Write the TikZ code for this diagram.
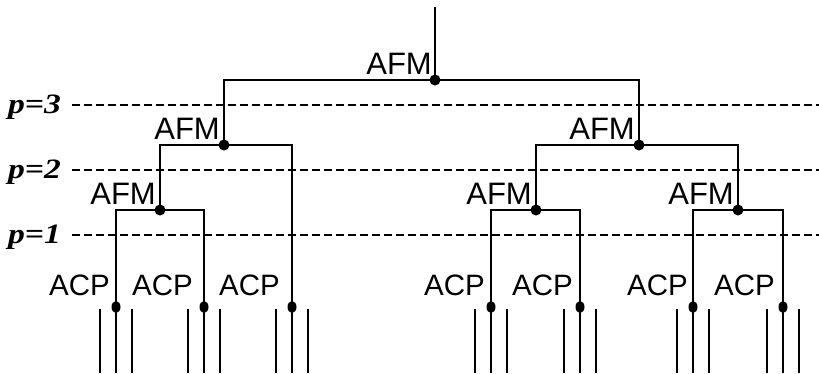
\documentclass[tikz,border=0pt]{standalone}
\usepackage{fontspec}
\usetikzlibrary{shapes.geometric}
\setmainfont{Liberation Serif}
\newfontfamily\lsans{Liberation Sans}
\begin{document}
\begin{tikzpicture}[x=1pt,y=-1pt,
  wire/.style={line width=2pt},
  guide/.style={line width=1.1pt,dash pattern=on 8pt off 4pt},
  dot/.style={circle,fill=black,inner sep=0pt,minimum size=11pt},
  leafdot/.style={ellipse,fill=black,inner sep=0pt,minimum width=9pt,minimum height=12pt},
  afm/.style={anchor=base east,inner sep=0pt,font=\lsans\fontsize{31}{32}\selectfont},
  acp/.style={anchor=base east,inner sep=0pt,font=\lsans\fontsize{29.5}{30}\selectfont},
  plab/.style={anchor=base west,inner sep=0pt,font=\bfseries\itshape\fontsize{28}{30}\selectfont}]
\useasboundingbox (0,0) rectangle (819,373);
% guides
\node[plab] (p3) at (8,113) {\scalebox{1.2}[1]{p=3}};
\node[plab] (p2) at (8,178) {\scalebox{1.2}[1]{p=2}};
\node[plab] (p1) at (8,243) {\scalebox{1.2}[1]{p=1}};
\coordinate (g3e) at (819,105);
\coordinate (g2e) at (819,170);
\coordinate (g1e) at (819,235);
\draw[guide] (72,105) -- (g3e);
\draw[guide] (72,170) -- (g2e);
\draw[guide] (72,235) -- (g1e);
% junctions
\coordinate (top) at (435,7);
\node[dot] (r) at (435,80) {};
\node[dot] (a) at (224,145) {};
\node[dot] (b) at (639,145) {};
\node[dot] (a1) at (160,210) {};
\node[dot] (b1) at (536,210) {};
\node[dot] (b2) at (738,210) {};
\node[leafdot] (l1) at (116,307) {};
\node[leafdot] (l2) at (204,307) {};
\node[leafdot] (l3) at (292,307) {};
\node[leafdot] (l4) at (491,307) {};
\node[leafdot] (l5) at (580,307) {};
\node[leafdot] (l6) at (693,307) {};
\node[leafdot] (l7) at (783,307) {};
% tree wires
\draw[wire] (top) -- (r.center);
\draw[wire] (a.center) |- (r.center) -| (b.center);
\draw[wire] (a1.center) |- (a.center) -| (l3.center);
\draw[wire] (l1.center) |- (a1.center) -| (l2.center);
\draw[wire] (b1.center) |- (b.center) -| (b2.center);
\draw[wire] (l4.center) |- (b1.center) -| (l5.center);
\draw[wire] (l6.center) |- (b2.center) -| (l7.center);
% leaf lines
\foreach \n/\x in {l1/116,l2/204,l3/292,l4/491,l5/580,l6/693,l7/783}{
  \coordinate (\n b) at (\x,373);
  \coordinate (\n ls) at (\x-16,309);
  \coordinate (\n le) at (\x-16,373);
  \coordinate (\n rs) at (\x+16,309);
  \coordinate (\n re) at (\x+16,373);
  \draw[wire] (\n.center) -- (\n b);
  \draw[wire] (\n ls) -- (\n le);
  \draw[wire] (\n rs) -- (\n re);
}
% labels
\node[afm] (tr) at (432,74) {AFM};
\node[afm] (ta) at (220,139) {AFM};
\node[afm] (tb) at (635,139) {AFM};
\node[afm] (ta1) at (156,204) {AFM};
\node[afm] (tb1) at (532,204) {AFM};
\node[afm] (tb2) at (734,204) {AFM};
\node[acp] (c1) at (110,295) {ACP};
\node[acp] (c2) at (193,295) {ACP};
\node[acp] (c3) at (280,295) {ACP};
\node[acp] (c4) at (485,295) {ACP};
\node[acp] (c5) at (573,295) {ACP};
\node[acp] (c6) at (688,295) {ACP};
\node[acp] (c7) at (775,295) {ACP};
\end{tikzpicture}
\end{document}
